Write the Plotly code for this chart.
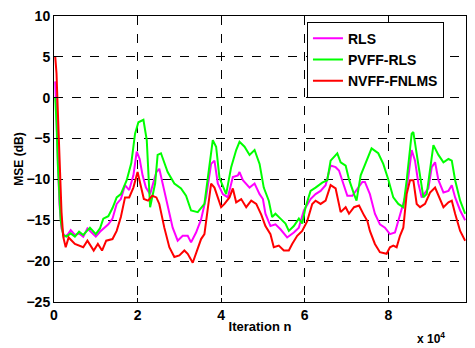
import plotly.graph_objects as go

# iteration (x 1e4) and MSE (dB)
rls_x = [0.03, 0.06, 0.10, 0.13, 0.18, 0.25, 0.32, 0.40, 0.50, 0.60, 0.70, 0.80, 0.90, 1.00, 1.10, 1.20, 1.30,
         1.40, 1.50, 1.60, 1.70, 1.80, 1.90, 1.98, 2.05, 2.12, 2.20, 2.30, 2.38, 2.45, 2.52, 2.60, 2.72, 2.84, 2.96,
         3.08, 3.20, 3.28, 3.40, 3.52, 3.64, 3.76, 3.84, 3.92, 4.04, 4.16, 4.28, 4.40, 4.44, 4.52, 4.68, 4.80, 4.92,
         5.00, 5.06, 5.18, 5.30, 5.42, 5.58, 5.74, 5.86, 5.98, 6.14, 6.26, 6.38, 6.50, 6.62, 6.74, 6.82, 6.90, 7.02,
         7.14, 7.26, 7.38, 7.44, 7.56, 7.68, 7.80, 7.92, 8.04, 8.16, 8.28, 8.40, 8.48, 8.56, 8.64, 8.72, 8.80, 8.88,
         8.96, 9.04, 9.12, 9.20, 9.32, 9.44, 9.52, 9.60, 9.72, 9.84]
rls_y = [2.0, -2.0, -8.0, -13.0, -16.0, -17.0, -16.8, -16.2, -16.8, -16.6, -17.0, -16.0, -16.5, -17.0, -16.4, -16.0, -15.5,
         -14.8, -13.0, -12.4, -10.7, -11.3, -9.5, -6.6, -7.5, -9.5, -11.0, -11.8, -10.5, -9.1, -8.7, -10.5, -13.4, -15.9, -17.5,
         -16.9, -16.9, -17.7, -16.5, -14.9, -12.2, -8.1, -7.7, -10.5, -11.8, -12.2, -9.7, -9.5, -9.1, -10.1, -11.0, -10.5, -11.8,
         -12.4, -14.2, -15.7, -15.5, -16.1, -17.1, -16.5, -15.9, -13.8, -12.4, -11.8, -11.4, -10.7, -8.3, -8.5, -8.9, -10.1, -12.0,
         -12.0, -11.1, -10.3, -10.3, -11.8, -14.2, -15.5, -15.9, -16.7, -16.5, -14.2, -12.2, -9.7, -6.4, -7.7, -10.5, -12.2, -11.6,
         -11.1, -8.5, -7.9, -10.1, -11.6, -11.4, -10.7, -12.2, -13.8, -15.0]

pvff_x = [0.03, 0.06, 0.09, 0.12, 0.16, 0.22, 0.30, 0.40, 0.50, 0.60, 0.70, 0.86, 1.00, 1.10, 1.18, 1.30, 1.40,
          1.50, 1.60, 1.74, 1.85, 1.94, 2.02, 2.14, 2.22, 2.30, 2.36, 2.42, 2.48, 2.56, 2.72, 2.88, 3.04, 3.16, 3.28,
          3.44, 3.60, 3.72, 3.80, 3.88, 3.96, 4.12, 4.24, 4.36, 4.44, 4.56, 4.68, 4.80, 4.92, 5.02, 5.14, 5.22, 5.30,
          5.42, 5.54, 5.62, 5.74, 5.86, 5.94, 6.02, 6.14, 6.26, 6.42, 6.54, 6.62, 6.78, 6.86, 6.98, 7.06, 7.18, 7.24,
          7.34, 7.46, 7.60, 7.76, 7.88, 8.00, 8.12, 8.24, 8.36, 8.44, 8.56, 8.60, 8.68, 8.76, 8.84, 8.92, 9.00, 9.08,
          9.20, 9.32, 9.44, 9.52, 9.60, 9.72, 9.84]
pvff_y = [0.0, -3.0, -8.0, -12.0, -15.0, -16.8, -17.0, -16.6, -17.0, -16.4, -16.8, -15.9, -16.7, -16.0, -14.8, -14.5, -13.5,
          -12.2, -11.8, -10.1, -8.0, -4.4, -3.0, -2.7, -5.2, -13.4, -12.0, -10.5, -7.0, -6.8, -9.1, -10.5, -11.1, -12.0, -13.8,
          -14.0, -13.0, -8.5, -5.2, -6.0, -9.8, -11.8, -8.5, -6.4, -5.4, -6.0, -7.0, -6.4, -8.1, -11.0, -12.6, -14.6, -14.2,
          -14.8, -15.4, -16.3, -15.7, -14.8, -15.4, -13.4, -11.4, -11.0, -10.4, -10.1, -7.7, -6.8, -7.9, -8.3, -10.0, -11.8, -12.6,
          -9.5, -7.9, -6.2, -6.8, -8.1, -10.0, -12.2, -13.0, -13.4, -10.1, -4.4, -4.2, -6.8, -9.7, -12.2, -11.8, -8.5, -5.8,
          -7.0, -7.9, -7.5, -7.7, -10.1, -12.6, -14.2]

nvff_x = [0.03, 0.06, 0.08, 0.11, 0.14, 0.18, 0.22, 0.28, 0.35, 0.50, 0.70, 0.80, 0.95, 1.05, 1.15, 1.25, 1.40,
          1.50, 1.60, 1.70, 1.80, 1.90, 2.00, 2.05, 2.15, 2.25, 2.35, 2.45, 2.52, 2.64, 2.76, 2.88, 3.00, 3.12, 3.20,
          3.32, 3.40, 3.52, 3.60, 3.68, 3.76, 3.84, 3.92, 4.00, 4.08, 4.20, 4.28, 4.36, 4.48, 4.60, 4.72, 4.84, 4.96,
          5.06, 5.18, 5.26, 5.38, 5.50, 5.62, 5.70, 5.82, 5.94, 6.06, 6.18, 6.26, 6.38, 6.50, 6.62, 6.74, 6.86, 6.98,
          7.06, 7.18, 7.30, 7.42, 7.50, 7.56, 7.68, 7.80, 7.96, 8.04, 8.12, 8.20, 8.28, 8.36, 8.44, 8.52, 8.60, 8.68,
          8.76, 8.88, 9.00, 9.12, 9.20, 9.32, 9.44, 9.52, 9.60, 9.72, 9.84]
nvff_y = [5.0, 3.0, 0.0, -5.0, -10.0, -14.0, -17.0, -18.3, -17.1, -17.9, -18.3, -17.5, -18.7, -17.9, -18.7, -17.5, -17.3,
          -16.3, -14.6, -12.2, -12.2, -11.0, -9.1, -10.1, -12.4, -12.6, -12.0, -12.2, -13.0, -15.9, -18.3, -19.5, -19.3, -18.7, -19.1,
          -20.2, -19.1, -17.3, -16.7, -13.8, -10.5, -11.0, -12.2, -13.4, -13.0, -12.2, -11.1, -12.8, -12.4, -13.4, -12.6, -13.0, -14.3,
          -15.7, -16.7, -18.3, -18.1, -18.7, -18.7, -17.9, -16.9, -16.3, -15.1, -13.0, -12.6, -13.0, -12.6, -10.7, -11.1, -14.0, -13.4,
          -14.2, -13.4, -13.2, -14.4, -15.1, -16.3, -17.9, -18.9, -19.1, -18.3, -18.1, -18.3, -16.9, -15.9, -11.8, -10.1, -10.1, -13.0,
          -13.4, -13.0, -11.6, -11.0, -12.0, -13.4, -12.8, -12.6, -14.2, -16.3, -17.5]

FONT = "Liberation Sans, Arial, sans-serif"

fig = go.Figure()
fig.add_trace(go.Scatter(x=[v * 1e4 for v in rls_x], y=rls_y, mode="lines", name="RLS",
                         line=dict(color="#ff00ff", width=2)))
fig.add_trace(go.Scatter(x=[v * 1e4 for v in pvff_x], y=pvff_y, mode="lines", name="PVFF-RLS",
                         line=dict(color="#00ff00", width=2)))
fig.add_trace(go.Scatter(x=[v * 1e4 for v in nvff_x], y=nvff_y, mode="lines", name="NVFF-FNLMS",
                         line=dict(color="#ff0000", width=2)))

axis_common = dict(showline=True, linecolor="black", linewidth=1, mirror=True,
                   showgrid=True, gridcolor="black", griddash="dash", gridwidth=1,
                   zeroline=False, ticks="inside", ticklen=4, tickcolor="black",
                   automargin=False,
                   tickfont=dict(family=FONT, size=14, color="black", weight="bold"))

fig.update_layout(
    width=475, height=348,
    margin=dict(l=54, r=9, t=16, b=46),
    paper_bgcolor="white", plot_bgcolor="white",
    font=dict(family=FONT, color="black"),
    xaxis=dict(range=[0, 98600], tickvals=[0, 20000, 40000, 60000, 80000],
               ticktext=["0", "2", "4", "6", "8"],
               title=dict(text="Iteration n", standoff=0,
                          font=dict(family=FONT, size=13, weight="bold")),
               **axis_common),
    yaxis=dict(range=[-25, 10], tickvals=[-25, -20, -15, -10, -5, 0, 5, 10],
               title=dict(text="MSE (dB)", standoff=0,
                          font=dict(family=FONT, size=12, weight="bold")),
               **axis_common),
    legend=dict(x=0.614, y=0.98, xanchor="left", yanchor="top",
                bgcolor="white", bordercolor="black", borderwidth=1,
                font=dict(family=FONT, size=14, color="black", weight="bold"),
                tracegroupgap=0, itemwidth=30),
    showlegend=True,
    annotations=[dict(text="x 10<sup>4</sup>", xref="paper", yref="paper",
                      x=0.955, y=-0.126, xanchor="right", yanchor="middle", showarrow=False,
                      font=dict(family=FONT, size=12, color="black", weight="bold"))],
)

# drop the default page margin so the figure sits at the window's corner
fig.write_html("out.html", config={"displayModeBar": False},
               post_script="document.body.style.margin='0';")
